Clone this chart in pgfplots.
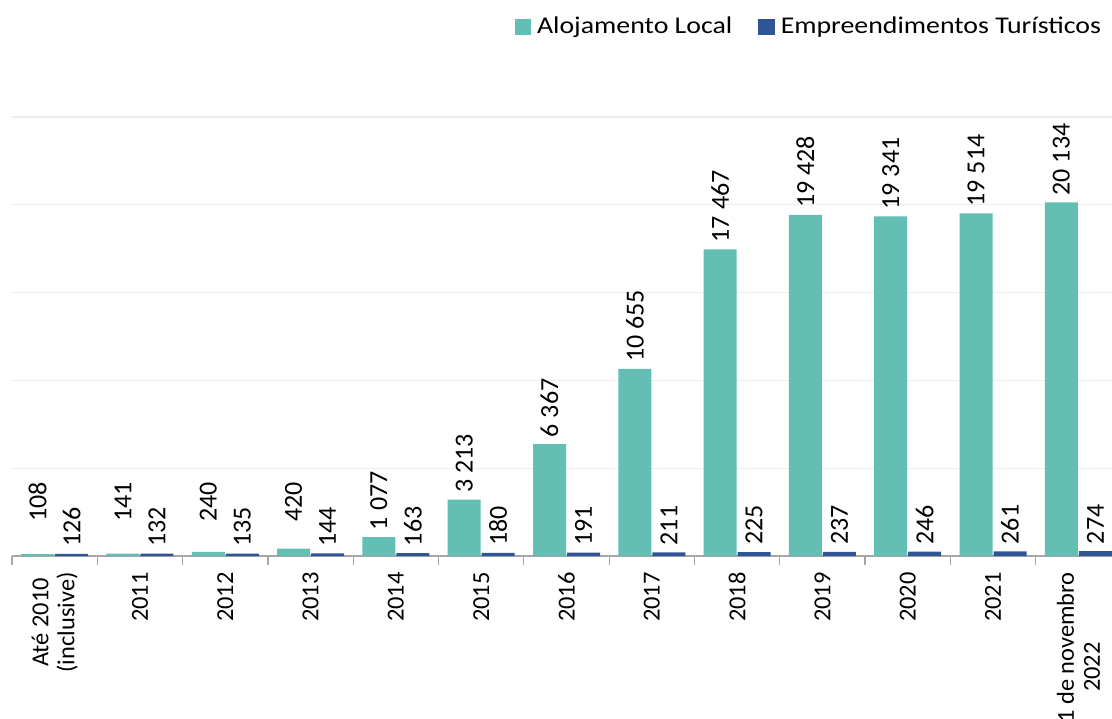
\documentclass[border=0pt]{standalone}
\usepackage{pgfplots}
\pgfplotsset{compat=1.18}
\usepackage{pgfplotstable}
\usepackage{fontspec}
\setmainfont{Carlito}
\newfontfamily\legfont[FakeStretch=1.16]{Carlito}
\definecolor{alteal}{HTML}{63BEB4}
\definecolor{etblue}{HTML}{2F5597}
\definecolor{gridgray}{HTML}{EDEDED}
\definecolor{axgray}{HTML}{A6A6A6}

% x: categoria, al: alojamento local, et: empreendimentos turisticos, alpos: altura da etiqueta
\pgfplotstableread{
x al et alpos
0 108 126 1540
1 141 132 1540
2 240 135 1540
3 420 144 1540
4 1077 163 1077
5 3213 180 3213
6 6367 191 6367
7 10655 211 10655
8 17467 225 17467
9 19428 237 19428
10 19341 246 19341
11 19514 261 19514
12 20134 274 20134
}\dados

\begin{document}
\begin{tikzpicture}
\clip (0,0) rectangle (556pt,359pt);
\useasboundingbox (0,0) rectangle (556pt,359pt);
\begin{axis}[
    at={(6pt,81pt)}, anchor=south west,
    scale only axis, width=554.5pt, height=219.5pt,
    xmin=-0.5, xmax=12.5, ymin=0, ymax=25000,
    clip=false, scaled y ticks=false,
    axis x line*=bottom, axis y line*=left,
    y axis line style={draw=none},
    x axis line style={axgray, line width=0.6pt},
    ytick={5000,10000,15000,20000,25000}, yticklabels={},
    ymajorgrids, grid style={gridgray, line width=0.6pt},
    major tick length=0pt,
    xtick={0,...,12},
    xticklabels={{Até 2010\\(inclusive)},2011,2012,2013,2014,2015,2016,2017,2018,2019,2020,2021,{Até 1 de novembro\\2022}},
    minor xtick={-0.5,0.5,...,12.5},
    minor x tick style={axgray, line width=0.6pt},
    minor tick length=4.5pt, tick align=outside,
    xticklabel style={rotate=90, anchor=east, align=center, inner sep=0pt,
        font=\fontsize{12.2}{13}\selectfont},
    xticklabel shift=8pt,
    /pgf/number format/.cd, 1000 sep={\ }, assume math mode=true, /pgfplots/.cd,
    legend style={at={(0.986,1.205)}, anchor=east, draw=none, fill=none,
        font=\legfont\fontsize{12}{14}\selectfont, inner sep=0pt,
        /tikz/every odd column/.append style={column sep=1pt},
        /tikz/every even column/.append style={column sep=11pt}},
    legend columns=2,
    legend image code/.code={\fill[#1] (0pt,-3.9pt) rectangle (7.8pt,3.9pt);},
]
\addlegendimage{alteal}
\addlegendentry{Alojamento Local}
\addlegendimage{etblue}
\addlegendentry{Empreendimentos Turísticos}

\addplot[ybar, bar width=16.5pt, bar shift=-8.5pt, fill=alteal, draw=none, forget plot]
    table[x=x, y=al] {\dados};
\addplot[ybar, bar width=16.5pt, bar shift=8.5pt, fill=etblue, draw=none, forget plot,
    nodes near coords, point meta=explicit,
    nodes near coords style={xshift=8.5pt, rotate=90, anchor=west,
        font=\fontsize{13}{15}\selectfont, black}]
    table[x=x, y=et, meta=et] {\dados};
% etiquetas do alojamento local
\addplot[ybar, bar width=16.5pt, bar shift=-8.5pt, draw=none, fill=none, forget plot,
    nodes near coords, point meta=explicit,
    nodes near coords style={xshift=-8.5pt, rotate=90, anchor=west,
        font=\fontsize{13}{15}\selectfont, black}]
    table[x=x, y=alpos, meta=al] {\dados};
\end{axis}
\end{tikzpicture}
\end{document}
